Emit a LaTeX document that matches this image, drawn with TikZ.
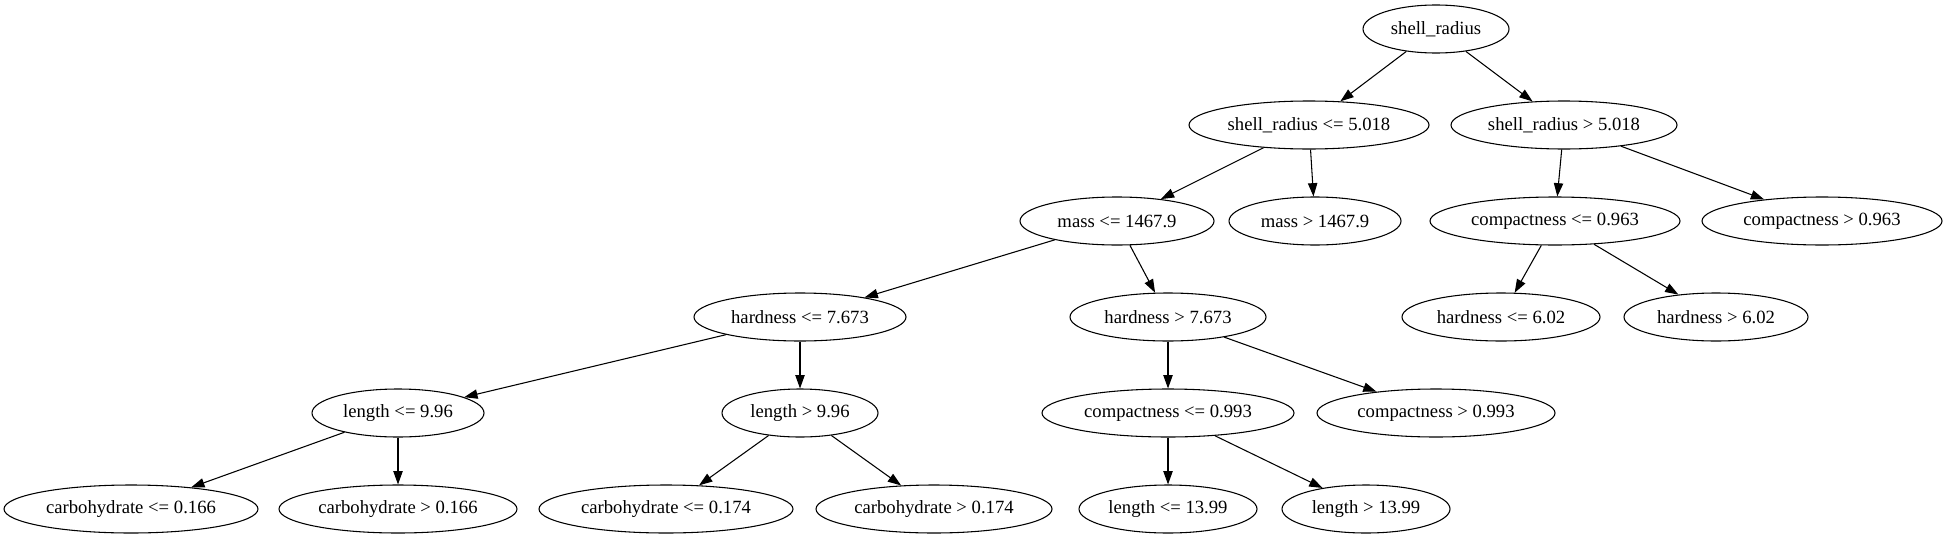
\documentclass[tikz,border=0pt]{standalone}
\usepackage{fontspec}
\setmainfont{Liberation Serif}
\usetikzlibrary{shapes.geometric,arrows.meta}
\begin{document}
\begin{tikzpicture}[x=0.75pt,y=-0.75pt,
  tn/.style={ellipse, draw, line width=0.8pt, inner sep=0pt, minimum height=36pt, minimum width={#1*1.5pt}, font=\fontsize{14pt}{16pt}\selectfont},
  ed/.style={draw, line width=0.8pt, -{Triangle[length=10pt,width=7pt]}}]
\useasboundingbox (0,0) rectangle (1947,539);
\node[tn=73]  (root)   at (1436,29)  {shell\_radius};
\node[tn=120] (srle)   at (1309,125) {shell\_radius <= 5.018};
\node[tn=113] (srgt)   at (1564,125) {shell\_radius > 5.018};
\node[tn=97]  (massle) at (1117,221) {mass <= 1467.9};
\node[tn=86]  (massgt) at (1315,221) {mass > 1467.9};
\node[tn=125] (cAle)   at (1555,221) {compactness <= 0.963};
\node[tn=120] (cAgt)   at (1822,221) {compactness > 0.963};
\node[tn=106] (hAle)   at (800,317)  {hardness <= 7.673};
\node[tn=98]  (hAgt)   at (1168,317) {hardness > 7.673};
\node[tn=99]  (hBle)   at (1501,317) {hardness <= 6.02};
\node[tn=92]  (hBgt)   at (1716,317) {hardness > 6.02};
\node[tn=86]  (lAle)   at (398,413)  {length <= 9.96};
\node[tn=78]  (lAgt)   at (800,413)  {length > 9.96};
\node[tn=126] (cBle)   at (1168,413) {compactness <= 0.993};
\node[tn=119] (cBgt)   at (1436,413) {compactness > 0.993};
\node[tn=127] (kAle)   at (131,509)  {carbohydrate <= 0.166};
\node[tn=119] (kAgt)   at (398,509)  {carbohydrate > 0.166};
\node[tn=127] (kBle)   at (666,509)  {carbohydrate <= 0.174};
\node[tn=118] (kBgt)   at (934,509)  {carbohydrate > 0.174};
\node[tn=89]  (lBle)   at (1168,509) {length <= 13.99};
\node[tn=84]  (lBgt)   at (1366,509) {length > 13.99};
\path[ed] (root) -- (srle);
\path[ed] (root) -- (srgt);
\path[ed] (srle) -- (massle);
\path[ed] (srle) -- (massgt);
\path[ed] (srgt) -- (cAle);
\path[ed] (srgt) -- (cAgt);
\path[ed] (massle) -- (hAle);
\path[ed] (massle) -- (hAgt);
\path[ed] (cAle) -- (hBle);
\path[ed] (cAle) -- (hBgt);
\path[ed] (hAle) -- (lAle);
\path[ed] (hAle) -- (lAgt);
\path[ed] (hAgt) -- (cBle);
\path[ed] (hAgt) -- (cBgt);
\path[ed] (lAle) -- (kAle);
\path[ed] (lAle) -- (kAgt);
\path[ed] (lAgt) -- (kBle);
\path[ed] (lAgt) -- (kBgt);
\path[ed] (cBle) -- (lBle);
\path[ed] (cBle) -- (lBgt);
\end{tikzpicture}
\end{document}
